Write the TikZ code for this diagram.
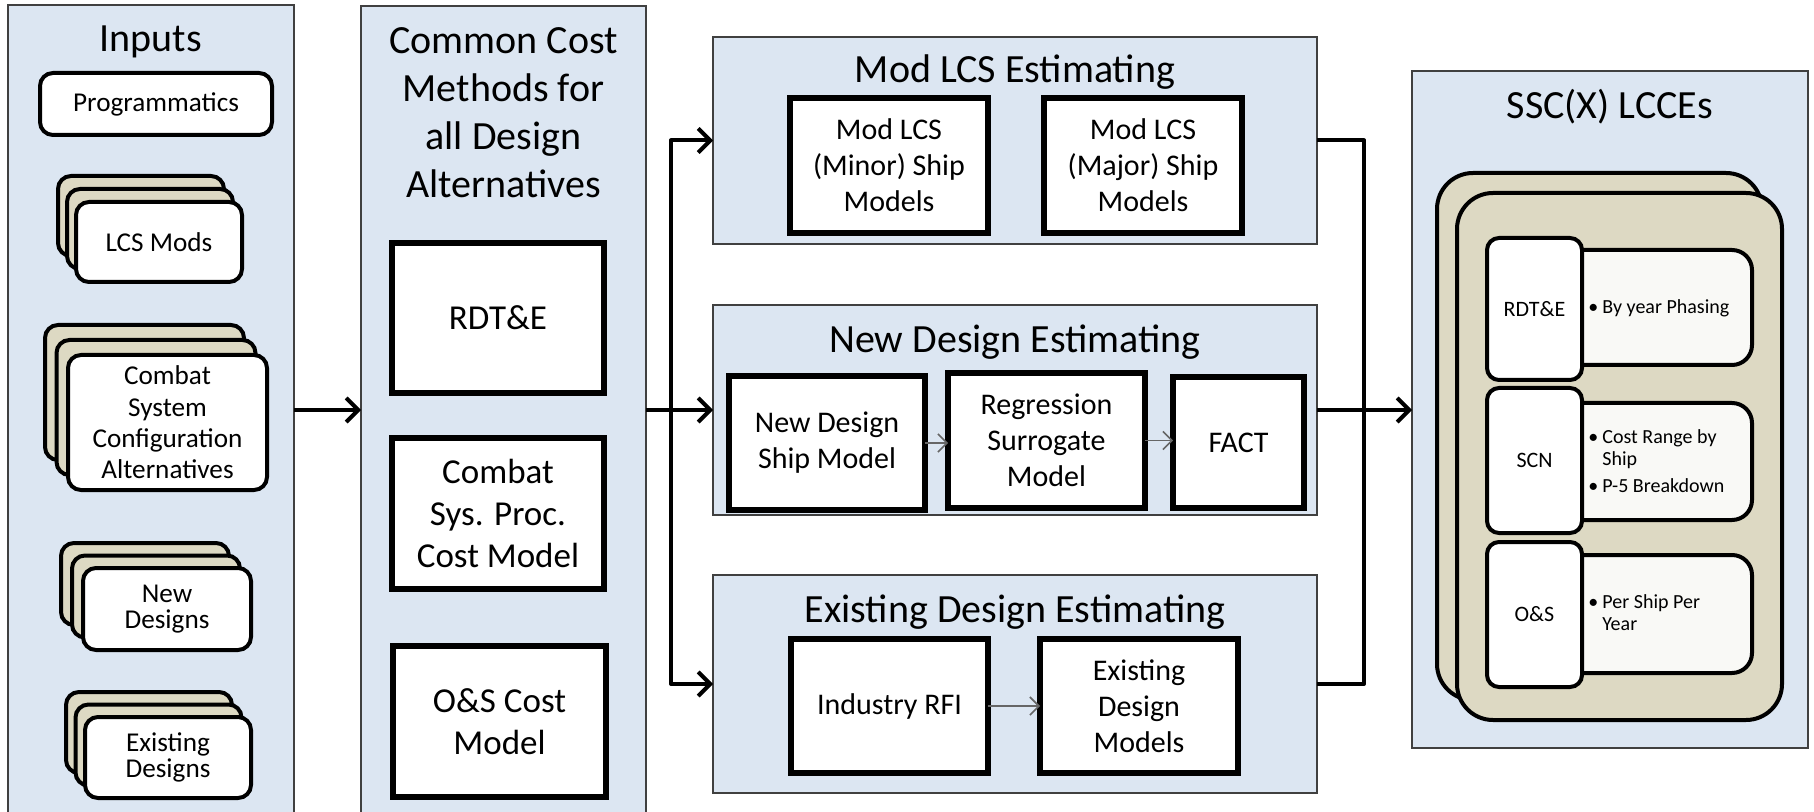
\documentclass[tikz,border=0pt]{standalone}
\usepackage{fontspec}
\setmainfont{Carlito}
\usetikzlibrary{arrows.meta,calc}

\definecolor{panelblue}{HTML}{DCE6F2}
\definecolor{paneledge}{HTML}{404040}
\definecolor{tan}{HTML}{DDD9C3}
\definecolor{paper}{HTML}{F9F9F6}
\definecolor{thinarrow}{HTML}{666666}

\newcommand\fTitle{\fontsize{20pt}{24pt}\selectfont}
\newcommand\fCard{\fontsize{13.6pt}{15.7pt}\selectfont}
\newcommand\fCardTight{\fontsize{13.6pt}{13pt}\selectfont}
\newcommand\fBox{\fontsize{17.5pt}{21pt}\selectfont}
\newcommand\fInner{\fontsize{15pt}{18pt}\selectfont}
\newcommand\fLab{\fontsize{11pt}{13pt}\selectfont}
\newcommand\fBul{\fontsize{10pt}{11pt}\selectfont}
\newcommand\bitem[1]{\makebox[7pt][l]{\textbullet}#1}
\newcommand\bcont[1]{\hspace*{7pt}#1}

\tikzset{
  panel/.style={draw=paneledge, line width=0.8pt, fill=panelblue,
    inner sep=0pt, outer sep=0pt},
  paneltitle/.style={font=\fTitle, align=center, inner sep=0pt},
  card/.style={draw=black, line width=2pt, fill=white, rounded corners=6.5pt,
    inner sep=0pt, outer sep=0pt, align=center, font=\fCard},
  backcard/.style={card, fill=tan},
  model/.style={draw=black, line width=2.6pt, fill=white, inner sep=0pt,
    outer sep=0pt, align=center},
  costbox/.style={model, font=\fBox},
  estbox/.style={model, font=\fInner},
  ledger/.style={draw=black, line width=2pt, fill=tan, rounded corners=18pt,
    inner sep=0pt, outer sep=0pt, minimum width=162.5pt, minimum height=263.5pt},
  sheet/.style={draw=black, line width=2pt, fill=paper, rounded corners=10pt,
    inner sep=0pt, outer sep=0pt, minimum width=96pt},
  tag/.style={draw=black, line width=2pt, fill=white, rounded corners=6pt,
    inner sep=0pt, outer sep=0pt, minimum width=47.5pt, font=\fLab},
  bullets/.style={anchor=west, align=left, font=\fBul, inner sep=0pt},
  wire/.style={line width=2pt, line join=round},
  conn/.style={wire, -{Straight Barb[length=6pt,width=12pt]}},
  link/.style={draw=thinarrow, line width=0.8pt,
    -{Straight Barb[length=4.5pt,width=9pt]}},
}

% stack of three cards: name, cx, cy, width, height, dx, dy, options, text
\newcommand\inputstack[9]{%
  \node[backcard, minimum width=#4, minimum height=#5] (#1-back)
    at ({#2-2*#6},{#3-2*#7}) {};
  \node[backcard, minimum width=#4, minimum height=#5] (#1-mid)
    at ({#2-#6},{#3-#7}) {};
  \node[card, minimum width=#4, minimum height=#5, #8] (#1) at (#2,#3) {#9};
}

\begin{document}
\begin{tikzpicture}[x=0.5pt, y=-0.5pt]
\useasboundingbox (0,0) rectangle (1814,812);
\clip (0,0) rectangle (1814,812);
\fill[white] (0,0) rectangle (1814,812);

% ---------- panels ----------
\node[panel, minimum width=143pt, minimum height=412.5pt] (inputs) at (151,417.5) {};
\node[panel, minimum width=142.5pt, minimum height=412pt] (common) at (503.5,418) {};
\node[panel, minimum width=302pt, minimum height=103.5pt] (modlcs) at (1015,140.5) {};
\node[panel, minimum width=302pt, minimum height=105pt] (newdes) at (1015,410) {};
\node[panel, minimum width=302pt, minimum height=109pt] (exist) at (1015,684) {};
\node[panel, minimum width=198pt, minimum height=338.5pt] (ssc) at (1610,409.5) {};

% ---------- inputs ----------
\node[paneltitle] (inputs-title) at (151,42) {Inputs};
\node[card, minimum width=116pt, minimum height=31pt] (prog) at (156,104) {Programmatics};
\inputstack{lcsmods}{159}{242}{83pt}{40pt}{9}{13}{}{LCS Mods}
\inputstack{combat}{167.5}{422.5}{99.5pt}{67.5pt}{11.5}{15}{}%
  {Combat\\System\\Configuration\\Alternatives}
\inputstack{newdesigns}{167}{609}{84pt}{41pt}{11}{12.5}{font=\fCardTight}{New\\Designs}
\inputstack{oldesigns}{168}{757.5}{83pt}{40.5pt}{9.5}{12.5}{font=\fCardTight}{Existing\\Designs}

% ---------- common cost methods ----------
\node[paneltitle] (common-title) at (503.5,113)
  {Common Cost\\Methods for\\all Design\\Alternatives};
\node[costbox, minimum width=106pt, minimum height=75pt] (rdte) at (498,318) {RDT\&E};
\node[costbox, minimum width=106pt, minimum height=75.5pt] (csys) at (498,513.5)
  {Combat\\Sys. Proc.\\Cost Model};
\node[costbox, minimum width=106.5pt, minimum height=75.5pt] (oscost) at (499.5,721.5)
  {O\&S Cost\\Model};

% ---------- mod LCS estimating ----------
\node[paneltitle] (modlcs-title) at (1015,72) {Mod LCS Estimating};
\node[estbox, minimum width=99pt, minimum height=67.5pt] (minor) at (889,165.5)
  {Mod LCS\\(Minor) Ship\\Models};
\node[estbox, minimum width=99pt, minimum height=67.5pt] (major) at (1143,165.5)
  {Mod LCS\\(Major) Ship\\Models};

% ---------- new design estimating ----------
\node[paneltitle] (newdes-title) at (1015,342) {New Design Estimating};
\node[estbox, minimum width=98pt, minimum height=67pt] (ndsm) at (827,443)
  {New Design\\Ship Model};
\node[estbox, minimum width=98.5pt, minimum height=67.5pt] (regr) at (1046.5,440.5)
  {Regression\\Surrogate\\Model};
\node[estbox, minimum width=65.5pt, minimum height=65.5pt] (fact) at (1238.5,442.5) {FACT};
\draw[link] (ndsm.east) -- (regr.west |- ndsm.east);
\draw[link] (regr.east) -- (fact.west |- regr.east);

% ---------- existing design estimating ----------
\node[paneltitle] (exist-title) at (1015,612) {Existing Design Estimating};
\node[estbox, minimum width=98.5pt, minimum height=67pt] (rfi) at (889.5,706) {Industry RFI};
\node[estbox, minimum width=99pt, minimum height=67pt] (edm) at (1139,706)
  {Existing\\Design\\Models};
\draw[link] (rfi.east) -- (edm.west);

% ---------- SSC(X) LCCEs ----------
\node[paneltitle] (ssc-title) at (1610,107) {SSC(X) LCCEs};
\node[ledger] (ledger-back) at (1599.5,436.5) {};
\node[ledger] (ledger) at (1619.5,456.5) {};

\node[sheet, minimum height=57.5pt] (rdte-sheet) at (1656,307.5) {};
\node[sheet, minimum height=58.5pt] (scn-sheet) at (1656,461.5) {};
\node[sheet, minimum height=59pt] (os-sheet) at (1656,614) {};

\node[tag, minimum height=71pt] (rdte-tag) at (1534.5,309) {RDT\&E};
\node[tag, minimum height=72.5pt] (scn-tag) at (1534.5,460.5) {SCN};
\node[tag, minimum height=72.5pt] (os-tag) at (1534.5,614.5) {O\&S};

\node[bullets] (rdte-notes) at (1588,308) {\bitem{By year Phasing}};
\node[bullets] (scn-notes) at (1588,461.5)
  {\bitem{Cost Range by}\\\bcont{Ship}\\[2.5pt]\bitem{P-5 Breakdown}};
\node[bullets] (os-notes) at (1588,613) {\bitem{Per Ship Per}\\\bcont{Year}};

% ---------- connectors ----------
\coordinate (splitL) at (671,410);
\coordinate (mergeR) at (1364,410);

\draw[conn] (inputs.east |- splitL) -- (common.west |- splitL);
\draw[conn] (common.east |- splitL) -- (newdes.west);
\draw[conn] (splitL) |- (modlcs.west);
\draw[conn] (splitL) |- (exist.west);
\draw[wire] (modlcs.east) -| (mergeR) |- (exist.east);
\draw[conn] (newdes.east) -- (newdes.east -| ssc.west);
\end{tikzpicture}
\end{document}
